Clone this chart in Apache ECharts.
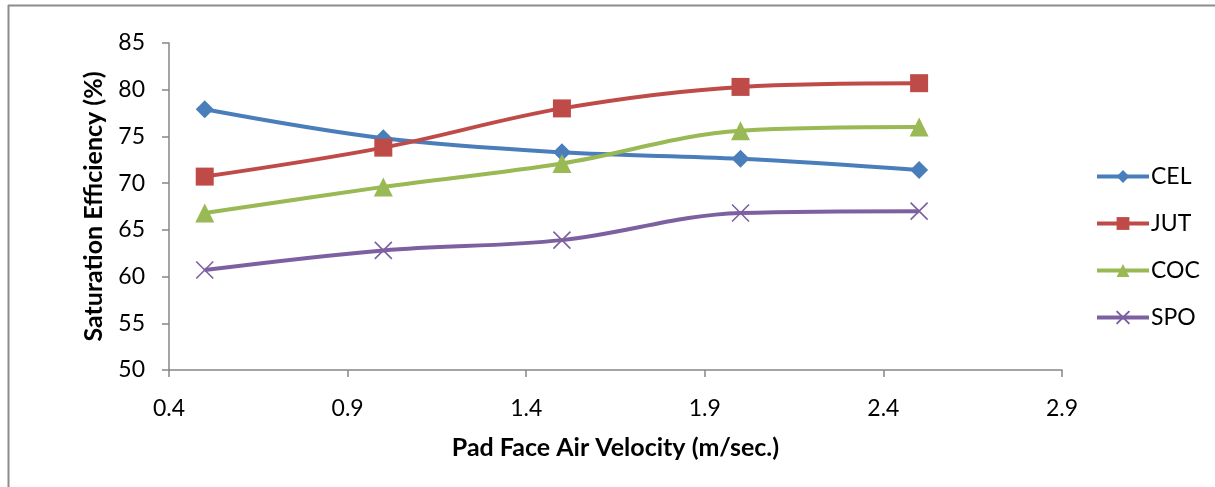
<!DOCTYPE html>
<html>
<head>
<meta charset="utf-8">
<title>Saturation Efficiency vs Pad Face Air Velocity</title>
<script src="https://cdn.jsdelivr.net/npm/echarts@6/dist/echarts.min.js"></script>
<style>
  html, body { margin: 0; padding: 0; background: #fff; }
  #chart { width: 1215px; height: 487px; }
</style>
</head>
<body>
<div id="chart"></div>
<script>
// Pad face air velocity (m/sec.)
const velocity = [0.5, 1.0, 1.5, 2.0, 2.5];

// Saturation efficiency (%) per pad material
const cel = [77.9, 74.8, 73.3, 72.6, 71.4];
const jut = [70.7, 73.8, 78.0, 80.3, 80.7];
const coc = [66.8, 69.6, 72.1, 75.6, 76.0];
const spo = [60.7, 62.8, 63.9, 66.8, 67.0];

const seriesNames = ['CEL', 'JUT', 'COC', 'SPO'];

// Axis tick positions
const xTicks = [0.4, 0.9, 1.4, 1.9, 2.4, 2.9];
const yTicks = [50, 55, 60, 65, 70, 75, 80, 85];

const FONT = 'Lato, "Open Sans", sans-serif';
const AXIS_GREY = '#868686';
const LABEL_SIZE = 23;
const TITLE_SIZE = 25;

const pairs = (ys) => velocity.map((x, i) => [x, ys[i]]);

const crossPath = 'path://M0,0L10,10M10,0L0,10';

function lineSeries(name, ys, color, symbol, size) {
  return {
    name: name,
    type: 'line',
    data: pairs(ys),
    smooth: 0.35,
    symbol: symbol,
    symbolSize: size,
    showSymbol: true,
    lineStyle: { color: color, width: 4 },
    itemStyle: {
      color: symbol === crossPath ? 'transparent' : color,
      borderColor: color,
      borderWidth: symbol === crossPath ? 1.6 : 0
    },
    emphasis: { disabled: true },
    z: 3
  };
}

const chart = echarts.init(document.getElementById('chart'), null, { renderer: 'canvas' });

chart.setOption({
  animation: false,
  backgroundColor: '#fff',
  textStyle: { fontFamily: FONT },
  grid: { left: 169, right: 153, top: 43, bottom: 117, containLabel: false },
  xAxis: {
    type: 'value',
    min: xTicks[0],
    max: xTicks[xTicks.length - 1],
    name: 'Pad Face Air Velocity (m/sec.)',
    nameLocation: 'middle',
    nameGap: 65,
    nameTextStyle: { fontFamily: FONT, fontSize: TITLE_SIZE, fontWeight: 'bold', color: '#000' },
    axisLine: { show: true, lineStyle: { color: AXIS_GREY, width: 1.5 } },
    axisTick: { show: true, inside: false, length: 7, customValues: xTicks, lineStyle: { color: AXIS_GREY, width: 1.5 } },
    axisLabel: {
      customValues: xTicks,
      formatter: (v) => v.toFixed(1),
      fontFamily: FONT, fontSize: LABEL_SIZE, color: '#000', margin: 27
    },
    splitLine: { show: false }
  },
  yAxis: {
    type: 'value',
    min: 50,
    max: 85,
    interval: 5,
    name: 'Saturation Efficiency (%)',
    nameLocation: 'middle',
    nameGap: 63,
    nameTextStyle: { fontFamily: FONT, fontSize: TITLE_SIZE, fontWeight: 'bold', color: '#000' },
    axisLine: { show: true, lineStyle: { color: AXIS_GREY, width: 1.5 } },
    axisTick: { show: true, inside: false, length: 7, lineStyle: { color: AXIS_GREY, width: 1.5 } },
    axisLabel: {
      customValues: yTicks,
      fontFamily: FONT, fontSize: LABEL_SIZE, color: '#000', margin: 24
    },
    splitLine: { show: false }
  },
  legend: {
    orient: 'vertical',
    left: 1090,
    top: 160,
    itemWidth: 52,
    itemHeight: 16,
    itemGap: 24,
    data: seriesNames,
    lineStyle: { width: 4 },
    textStyle: { fontFamily: FONT, fontSize: LABEL_SIZE, color: '#000', padding: [0, 0, 0, -3] },
    selectedMode: false
  },
  graphic: [
    { type: 'line', shape: { x1: 8, y1: 5.5, x2: 1215, y2: 5.5 }, style: { stroke: '#8c8c8c', lineWidth: 2 }, silent: true },
    { type: 'line', shape: { x1: 8.5, y1: 5, x2: 8.5, y2: 487 }, style: { stroke: '#8c8c8c', lineWidth: 2 }, silent: true }
  ],
  series: [
    lineSeries('CEL', cel, '#4a7ebb', 'diamond', 18),
    lineSeries('JUT', jut, '#be4b48', 'rect', 18),
    lineSeries('COC', coc, '#98b954', 'triangle', 19),
    lineSeries('SPO', spo, '#7d60a0', crossPath, 17)
  ]
});
</script>
</body>
</html>
